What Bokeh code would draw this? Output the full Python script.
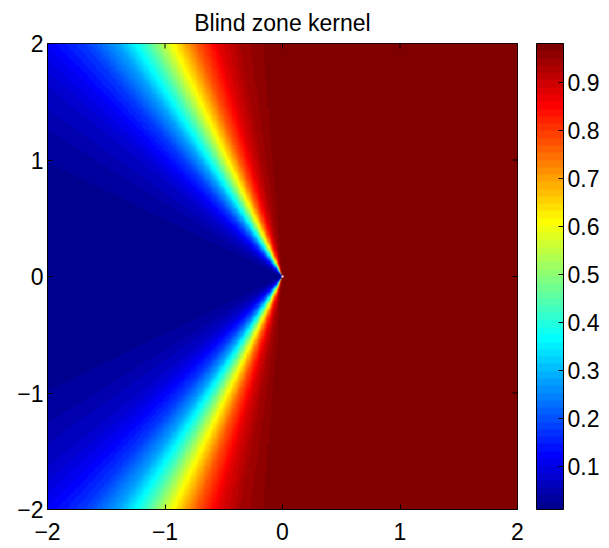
import numpy as np
from bokeh.plotting import figure
from bokeh.models import LinearColorMapper, ColorBar, FixedTicker, Range1d
from bokeh.embed import file_html
from bokeh.resources import INLINE

# ---- data ----
title_text = "Blind zone kernel"
# kernel value as a function of the absolute polar angle |theta| (degrees)
kernel_theta_deg = [0, 90, 95, 100, 105, 110, 115, 120, 125, 130, 135, 140, 150, 160, 170, 180]
kernel_value = [0.981, 0.981, 0.965, 0.94, 0.88, 0.77, 0.61, 0.43, 0.28, 0.18, 0.12, 0.075, 0.032, 0.017, 0.012, 0.011]
x_ticks = [-2, -1, 0, 1, 2]
x_tick_labels = ["\u22122", "\u22121", "0", "1", "2"]
y_ticks = [-2, -1, 0, 1, 2]
y_tick_labels = ["\u22122", "\u22121", "0", "1", "2"]
cb_ticks = [0.1, 0.2, 0.3, 0.4, 0.5, 0.6, 0.7, 0.8, 0.9]
grid_min, grid_max, grid_n = -2.0, 2.0, 401

# ---- MATLAB jet(64) colormap ----
def jet(n=64):
    m = int(np.ceil(n / 4))
    u = np.concatenate([np.arange(1, m + 1) / m, np.ones(m - 1), np.arange(m, 0, -1) / m])
    g = int(np.ceil(m / 2)) - (1 if n % 4 == 1 else 0) + np.arange(1, len(u) + 1)
    r = g + m
    b = g - m
    J = np.zeros((n, 3))
    for idx, val in zip(r, u):
        if 1 <= idx <= n:
            J[idx - 1, 0] = val
    for idx, val in zip(g, u):
        if 1 <= idx <= n:
            J[idx - 1, 1] = val
    for idx, val in zip(b, u):
        if 1 <= idx <= n:
            J[idx - 1, 2] = val
    return ["#%02x%02x%02x" % tuple(int(round(c * 255)) for c in row) for row in J]

palette = jet(64)

xs = np.linspace(grid_min, grid_max, grid_n)
ys = np.linspace(grid_min, grid_max, grid_n)
X, Y = np.meshgrid(xs, ys)
theta = np.degrees(np.abs(np.arctan2(Y, X)))
Z = np.interp(theta, kernel_theta_deg, kernel_value)
Z[(np.abs(X) < 1e-12) & (np.abs(Y) < 1e-12)] = np.nan

mapper = LinearColorMapper(palette=palette, low=min(kernel_value), high=max(kernel_value), nan_color="white")

FONT = "Liberation Sans"

p = figure(width=605, height=548, x_range=Range1d(grid_min, grid_max), y_range=Range1d(grid_min, grid_max),
           output_backend="svg", toolbar_location=None, title=title_text,
           min_border_left=47, min_border_right=88, min_border_top=43, min_border_bottom=39)
p.title.text_font = FONT
p.title.text_font_size = "23px"
p.title.text_font_style = "normal"
p.title.align = "center"
p.title.text_color = "black"
p.title.standoff = 15

p.image(image=[Z], x=grid_min, y=grid_min, dw=grid_max - grid_min, dh=grid_max - grid_min, color_mapper=mapper)

# mirrored inner tick marks on the top and right frame edges
p.scatter(x=x_ticks, y=[grid_max] * len(x_ticks), marker="dash", angle=np.pi / 2, size=10,
          line_color="black", line_width=1)
p.scatter(x=[grid_max] * len(y_ticks), y=y_ticks, marker="dash", angle=0, size=10,
          line_color="black", line_width=1)

p.grid.visible = False
p.outline_line_color = "black"
p.outline_line_alpha = 1
p.background_fill_color = "white"

for ax, ticks, labels in ((p.xaxis[0], x_ticks, x_tick_labels), (p.yaxis[0], y_ticks, y_tick_labels)):
    ax.ticker = FixedTicker(ticks=ticks)
    ax.major_label_overrides = {t: l for t, l in zip(ticks, labels)}
    ax.major_tick_in = 5
    ax.major_tick_out = 0
    ax.minor_tick_line_color = None
    ax.major_tick_line_color = "black"
    ax.axis_line_color = "black"
    ax.major_label_text_font = FONT
    ax.major_label_text_font_size = "23px"
    ax.major_label_text_color = "black"
p.xaxis[0].major_label_standoff = 13
p.yaxis[0].major_label_standoff = 4

# invisible spacer between the frame and the colour bar
spacer = ColorBar(color_mapper=mapper, ticker=FixedTicker(ticks=[]), width=19, height=10, padding=0,
                  scale_alpha=0, bar_line_color=None, major_tick_line_color=None,
                  minor_tick_line_color=None, border_line_color=None, background_fill_alpha=0,
                  label_standoff=0)
p.add_layout(spacer, "right")

cb = ColorBar(color_mapper=mapper, ticker=FixedTicker(ticks=cb_ticks), width=27, height=466,
              padding=0, margin=0, major_label_text_font=FONT, major_label_text_font_size="23px",
              major_label_text_color="black", label_standoff=4, bar_line_color="black",
              major_tick_line_color="black", major_tick_in=5, major_tick_out=0,
              minor_tick_line_color=None, border_line_color=None, background_fill_alpha=0)
p.add_layout(cb, "right")

open("out.html", "w").write(file_html(p, INLINE))
